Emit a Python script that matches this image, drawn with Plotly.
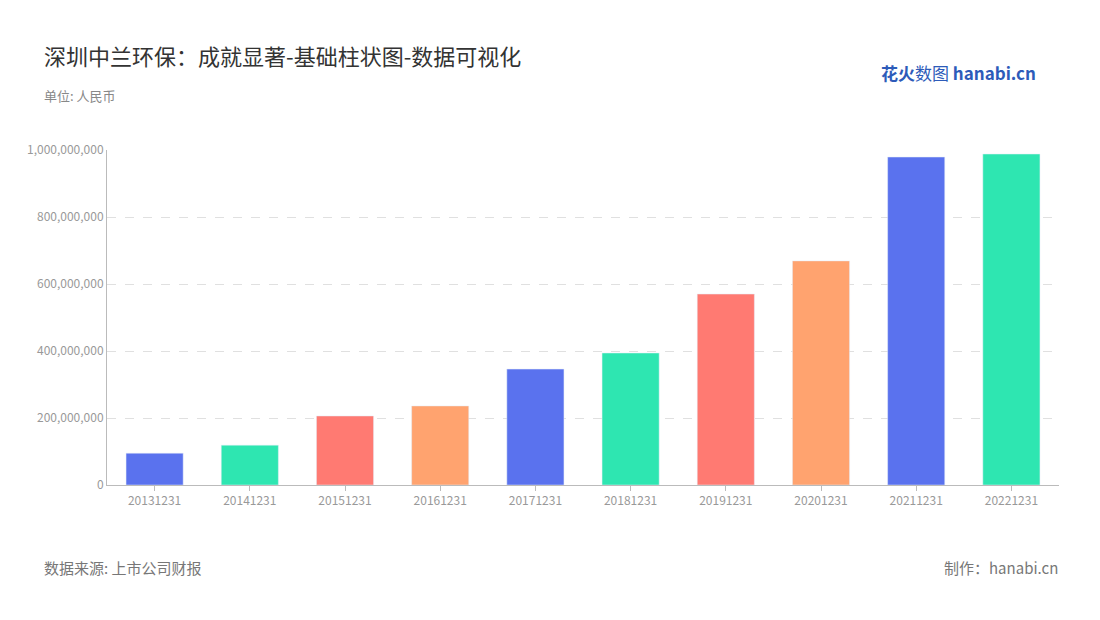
import plotly.graph_objects as go

years = ["20131231", "20141231", "20151231", "20161231", "20171231",
         "20181231", "20191231", "20201231", "20211231", "20221231"]
values = [95e6, 119e6, 206e6, 236e6, 346e6, 394e6, 570e6, 669e6, 979e6, 988e6]
palette = ["#5A72EE", "#2EE6B1", "#FF7A72", "#FFA36F"]
colors = [palette[i % 4] for i in range(len(years))]

font = "Noto Sans CJK SC"

# page renders with an 8px body offset, so everything is shifted back by 8
L, T, R, B = 99, 142, 49, 143
W, H = 1100, 620

fig = go.Figure(go.Bar(x=years, y=values, marker=dict(color=colors), width=0.6))

fig.update_layout(
    width=W, height=H,
    margin=dict(l=L, r=R, t=T, b=B),
    paper_bgcolor="white", plot_bgcolor="white",
    font=dict(family=font),
    showlegend=False,
    xaxis=dict(showline=True, linecolor="#bbbbbb", ticks="outside", ticklen=5,
               tickcolor="#bbbbbb", tickfont=dict(size=12, color="#999999")),
    yaxis=dict(range=[0, 1e9], tickvals=[0, 2e8, 4e8, 6e8, 8e8, 1e9],
               tickformat=",d", showgrid=True, gridcolor="#e0e0e0", griddash="dash",
               zeroline=False, showline=True, linecolor="#bbbbbb",
               tickfont=dict(size=12, color="#999999")),
    annotations=[
        dict(text="深圳中兰环保：成就显著-基础柱状图-数据可视化", x=34, y=47,
             showarrow=False, xanchor="left", yanchor="middle",
             font=dict(size=22, color="#333333")),
        dict(text="单位: 人民币", x=34, y=88, showarrow=False, xanchor="left",
             yanchor="middle", font=dict(size=13, color="#888888")),
        dict(text="数据来源: 上市公司财报", x=34, y=559, showarrow=False, xanchor="left",
             yanchor="middle", font=dict(size=15, color="#777777")),
        dict(text="制作：hanabi.cn", x=1052, y=559, showarrow=False, xanchor="right",
             yanchor="middle", font=dict(size=15, color="#777777")),
        dict(text="<b>花火</b>数图 <b>hanabi.cn</b>", x=1030, y=64, showarrow=False,
             xanchor="right", yanchor="middle", font=dict(size=17, color="#2d5bb9")),
    ],
)
# annotations are given in pixel coords: convert to paper space
pw, ph = W - L - R, H - T - B
for a in fig.layout.annotations:
    a.xref = "paper"
    a.yref = "paper"
    a.x = (a.x - L) / pw
    a.y = (H - B - a.y) / ph

fig.write_html("out.html")
